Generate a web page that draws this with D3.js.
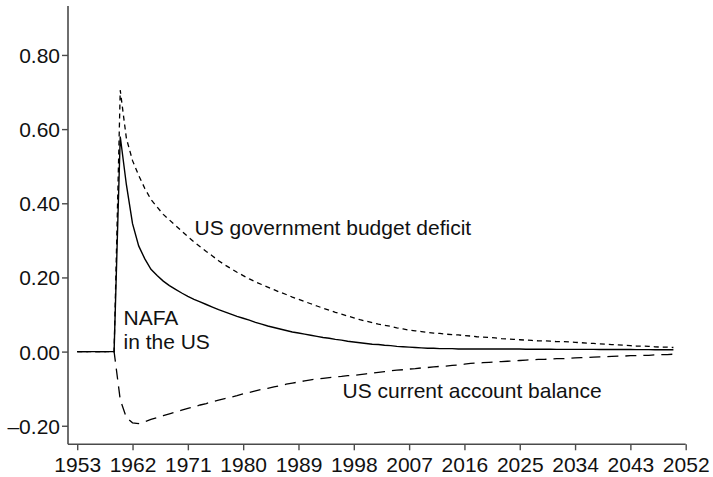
<!DOCTYPE html>
<html>
<head>
<meta charset="utf-8">
<script src="https://cdn.jsdelivr.net/npm/d3@7"></script>
<style>
  html, body { margin: 0; padding: 0; background: #fff; }
  svg { display: block; }
  text { font-family: "Liberation Sans", Arial, Helvetica, sans-serif; fill: #111; }
</style>
</head>
<body>
<svg id="chart" width="713" height="477"></svg>
<script>
// ---------------- DATA ----------------
const startYear = 1953;
const endYear = 2050;
const years = d3.range(startYear, endYear + 1);

const xTickYears = [1953, 1962, 1971, 1980, 1989, 1998, 2007, 2016, 2025, 2034, 2043, 2052];
const yTickValues = [-0.20, 0.00, 0.20, 0.40, 0.60, 0.80];

// NAFA in the US (solid)
const nafa = [
  0, 0, 0, 0, 0, 0, 0,                        // 1953-1959
  0.58, 0.45, 0.345, 0.285, 0.25, 0.222, 0.205, 0.19, 0.178, 0.168,   // 1960-1969
  0.158, 0.149, 0.141, 0.134, 0.127, 0.12, 0.113, 0.107, 0.101, 0.095, // 1970-1979
  0.09, 0.085, 0.079, 0.074, 0.069, 0.065, 0.061, 0.057, 0.053, 0.05,  // 1980-1989
  0.047, 0.044, 0.041, 0.038, 0.036, 0.033, 0.031, 0.028, 0.026, 0.024, // 1990-1999
  0.022, 0.02, 0.019, 0.017, 0.016, 0.014, 0.013, 0.012, 0.011, 0.01,  // 2000-2009
  0.009, 0.009, 0.008, 0.008, 0.008, 0.007, 0.007, 0.007, 0.007, 0.007, // 2010-2019
  0.007, 0.007, 0.007, 0.007, 0.007, 0.007, 0.0065, 0.0065, 0.0065, 0.0065, // 2020-2029
  0.0065, 0.006, 0.006, 0.006, 0.006, 0.006, 0.006, 0.006, 0.0058, 0.0058, // 2030-2039
  0.0056, 0.0056, 0.0055, 0.0055, 0.0054, 0.0053, 0.0052, 0.0051, 0.005, 0.005, // 2040-2049
  0.005                                         // 2050
];

// US government budget deficit (short dashes)
const budgetDeficit = [
  0, 0, 0, 0, 0, 0, 0,
  0.705, 0.575, 0.515, 0.475, 0.44, 0.41, 0.39, 0.37, 0.355, 0.34,
  0.325, 0.31, 0.296, 0.283, 0.27, 0.258, 0.245, 0.234, 0.224, 0.214,
  0.205, 0.196, 0.188, 0.181, 0.174, 0.167, 0.16, 0.154, 0.147, 0.141,
  0.135, 0.129, 0.123, 0.117, 0.112, 0.106, 0.101, 0.096, 0.091, 0.086,
  0.082, 0.078, 0.074, 0.071, 0.068, 0.064, 0.061, 0.058, 0.056, 0.054,
  0.052, 0.05, 0.049, 0.047, 0.046, 0.045, 0.043, 0.042, 0.04, 0.039,
  0.038, 0.037, 0.035, 0.034, 0.033, 0.032, 0.031, 0.03, 0.029, 0.029,
  0.028, 0.027, 0.027, 0.026, 0.025, 0.024, 0.023, 0.022, 0.021, 0.02,
  0.019, 0.018, 0.017, 0.016, 0.015, 0.015, 0.014, 0.013, 0.012, 0.012,
  0.011
];

// US current account balance (long dashes)
const currentAccount = [
  0, 0, 0, 0, 0, 0, 0,
  -0.13, -0.178, -0.192, -0.194, -0.189, -0.183, -0.178, -0.173, -0.168, -0.163,
  -0.158, -0.153, -0.149, -0.144, -0.14, -0.135, -0.131, -0.127, -0.123, -0.119,
  -0.114, -0.11, -0.106, -0.102, -0.099, -0.095, -0.092, -0.088, -0.085, -0.082,
  -0.079, -0.076, -0.074, -0.072, -0.07, -0.068, -0.067, -0.065, -0.064, -0.062,
  -0.06, -0.058, -0.056, -0.054, -0.052, -0.05, -0.049, -0.047, -0.046, -0.044,
  -0.043, -0.041, -0.04, -0.039, -0.037, -0.036, -0.034, -0.032, -0.031, -0.03,
  -0.029, -0.028, -0.027, -0.026, -0.025, -0.024, -0.023, -0.022, -0.021, -0.021,
  -0.02, -0.019, -0.019, -0.018, -0.017, -0.016, -0.016, -0.015, -0.014, -0.014,
  -0.013, -0.012, -0.012, -0.011, -0.011, -0.01, -0.01, -0.009, -0.008, -0.008,
  -0.007
];

const seriesNames = ["NAFA in the US", "US government budget deficit", "US current account balance"];

// ---------------- CHART ----------------
const svg = d3.select("#chart");
const axisColor = "#4a4a4a";
const fontSize = 21;

const x = d3.scaleLinear().domain([1951.5, 2052]).range([68, 685.7]);
const y = d3.scaleLinear().domain([-0.25, 0.932]).range([444.3, 6]);

// Axes
const yAxis = d3.axisLeft(y).tickValues(yTickValues).tickSize(6).tickPadding(2)
  .tickFormat(d => (d < 0 ? "\u2013" : "") + Math.abs(d).toFixed(2));
const xAxis = d3.axisBottom(x).tickValues(xTickYears).tickSize(6).tickPadding(7)
  .tickFormat(d3.format("d"));

const gy = svg.append("g").attr("transform", "translate(68,0)").call(yAxis);
const gx = svg.append("g").attr("transform", "translate(0,444.3)").call(xAxis);

[gx, gy].forEach(g => {
  g.select(".domain").remove();
  g.selectAll(".tick line").attr("stroke", axisColor).attr("stroke-width", 1.4);
  g.selectAll(".tick text").attr("font-size", fontSize)
    .attr("font-family", "'Liberation Sans', Arial, sans-serif").attr("fill", "#111");
});
gy.selectAll(".tick text").attr("dy", "0.36em");

// axis lines
svg.append("line").attr("x1", 68).attr("x2", 68).attr("y1", y.range()[1]).attr("y2", y.range()[0])
  .attr("stroke", axisColor).attr("stroke-width", 1.6);
svg.append("line").attr("x1", 68).attr("x2", x(2052)).attr("y1", y.range()[0]).attr("y2", y.range()[0])
  .attr("stroke", axisColor).attr("stroke-width", 1.6);

// Lines
const line = d3.line().x((d, i) => x(years[i])).y(d => y(d)).curve(d3.curveLinear);

const specs = [
  { values: currentAccount, dash: "11,7", width: 1.3 },
  { values: budgetDeficit, dash: "5,4", width: 1.3 },
  { values: nafa, dash: null, width: 1.4 }
];

specs.forEach(s => {
  svg.append("path")
    .datum(s.values)
    .attr("d", line)
    .attr("fill", "none")
    .attr("stroke", "#000")
    .attr("stroke-width", s.width)
    .attr("stroke-dasharray", s.dash);
});

// Labels
svg.append("text").attr("x", 123.5).attr("y", 325).attr("font-size", fontSize).text("NAFA");
svg.append("text").attr("x", 123.5).attr("y", 348.5).attr("font-size", fontSize).text("in the US");
svg.append("text").attr("x", 194.5).attr("y", 235).attr("font-size", fontSize).text(seriesNames[1]);
svg.append("text").attr("x", 342.5).attr("y", 397.5).attr("font-size", fontSize).text(seriesNames[2]);
</script>
</body>
</html>
